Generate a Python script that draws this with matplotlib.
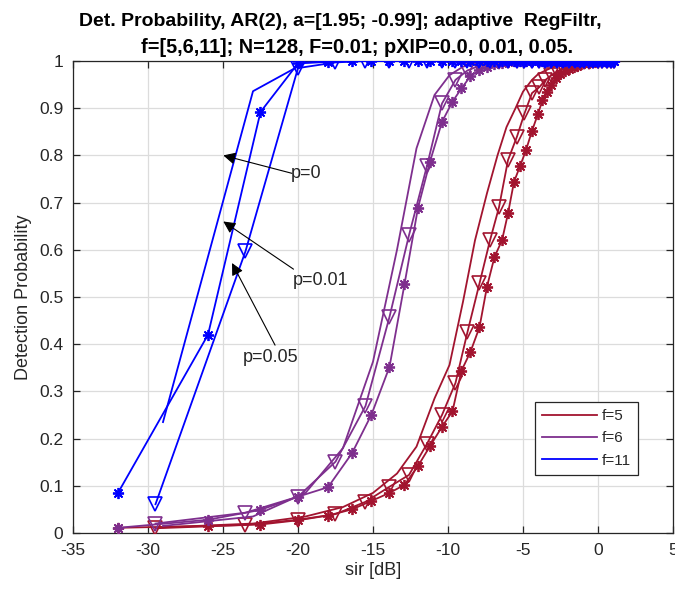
import matplotlib
matplotlib.use("Agg")
import matplotlib.pyplot as plt
from matplotlib.lines import Line2D

plt.rcParams['font.family'] = ['Liberation Sans', 'DejaVu Sans']

# ---------------- data ----------------
# SIR grids for the three pXIP settings
x_p000 = [-29.0, -23.0, -19.5, -17.0, -15.0, -13.4, -12.1, -10.9, -9.9, -9.0,
          -8.2, -7.4, -6.7, -6.1, -5.5, -5.0, -4.4, -4.0, -3.5, -3.0,
          -2.6, -2.2, -1.8, -1.5, -1.1, -0.8, -0.5, -0.2, 0.1, 0.4, 0.7, 1.0]
x_p001 = [-32.0, -26.0, -22.5, -20.0, -18.0, -16.4, -15.1, -13.9, -12.9, -12.0,
          -11.2, -10.4, -9.7, -9.1, -8.5, -7.9, -7.4, -6.9, -6.4, -6.0,
          -5.6, -5.2, -4.8, -4.4, -4.0, -3.7, -3.4, -3.1, -2.8, -2.5,
          -2.2, -1.9, -1.6, -1.4, -1.1, -0.9, -0.6, -0.4, -0.2, 0.0,
          0.3, 0.5, 0.7, 0.9, 1.1]
x_p005 = [-29.5, -23.5, -20.0, -17.5, -15.5, -13.9, -12.6, -11.4, -10.4, -9.5,
          -8.7, -7.9, -7.2, -6.6, -6.0, -5.4, -4.9, -4.4, -3.9, -3.5,
          -3.1, -2.7, -2.3, -1.9, -1.5, -1.2, -0.9, -0.6, -0.3, 0.0,
          0.3, 0.6, 0.9, 1.1]

# f = 5
f5_p000 = [0.012, 0.02, 0.035, 0.055, 0.085, 0.126, 0.183, 0.285, 0.356, 0.49,
           0.62, 0.72, 0.80, 0.86, 0.90, 0.935, 0.96, 0.972, 0.98, 0.987,
           0.992, 0.995, 0.997, 0.998, 1.0, 1.0, 1.0, 1.0, 1.0, 1.0, 1.0, 1.0]
f5_p001 = [0.011, 0.015, 0.018, 0.027, 0.037, 0.05, 0.068, 0.085, 0.102, 0.142,
           0.184, 0.225, 0.258, 0.344, 0.384, 0.436, 0.522, 0.585, 0.62, 0.677,
           0.744, 0.777, 0.811, 0.852, 0.888, 0.917, 0.935, 0.95, 0.963, 0.972,
           0.978, 0.983, 0.987, 0.99, 0.993, 0.995, 0.996, 0.997, 0.998, 0.999,
           1.0, 1.0, 1.0, 1.0, 1.0]
f5_p005 = [0.01, 0.017, 0.028, 0.04, 0.066, 0.098, 0.123, 0.189, 0.25, 0.318,
           0.426, 0.529, 0.62, 0.69, 0.79, 0.84, 0.889, 0.932, 0.945, 0.96,
           0.97, 0.978, 0.985, 0.99, 0.993, 0.995, 0.997, 0.998, 1.0, 1.0,
           1.0, 1.0, 1.0, 1.0]
# f = 6
f6_p000 = [0.015, 0.035, 0.085, 0.18, 0.363, 0.6, 0.815, 0.928, 0.97, 0.988,
           0.995, 0.998, 1.0, 1.0, 1.0, 1.0, 1.0, 1.0, 1.0, 1.0,
           1.0, 1.0, 1.0, 1.0, 1.0, 1.0, 1.0, 1.0, 1.0, 1.0, 1.0, 1.0]
f6_p001 = [0.011, 0.028, 0.049, 0.077, 0.097, 0.169, 0.251, 0.352, 0.527, 0.689,
           0.787, 0.871, 0.914, 0.942, 0.968, 0.98, 0.988, 0.993, 0.996, 0.998,
           1.0, 1.0, 1.0, 1.0, 1.0, 1.0, 1.0, 1.0, 1.0, 1.0,
           1.0, 1.0, 1.0, 1.0, 1.0, 1.0, 1.0, 1.0, 1.0, 1.0,
           1.0, 1.0, 1.0, 1.0, 1.0]
f6_p005 = [0.02, 0.043, 0.077, 0.151, 0.269, 0.458, 0.631, 0.778, 0.91, 0.96,
           0.98, 0.99, 0.995, 0.998, 1.0, 1.0, 1.0, 1.0, 1.0, 1.0,
           1.0, 1.0, 1.0, 1.0, 1.0, 1.0, 1.0, 1.0, 1.0, 1.0,
           1.0, 1.0, 1.0, 1.0]
# f = 11
f11_p000 = [0.235, 0.936, 0.997, 1.0, 1.0, 1.0, 1.0, 1.0, 1.0, 1.0,
            1.0, 1.0, 1.0, 1.0, 1.0, 1.0, 1.0, 1.0, 1.0, 1.0,
            1.0, 1.0, 1.0, 1.0, 1.0, 1.0, 1.0, 1.0, 1.0, 1.0, 1.0, 1.0]
f11_p001 = [0.085, 0.42, 0.892, 0.995, 0.998, 1.0, 1.0, 1.0, 1.0, 1.0,
            1.0, 1.0, 1.0, 1.0, 1.0, 1.0, 1.0, 1.0, 1.0, 1.0,
            1.0, 1.0, 1.0, 1.0, 1.0, 1.0, 1.0, 1.0, 1.0, 1.0,
            1.0, 1.0, 1.0, 1.0, 1.0, 1.0, 1.0, 1.0, 1.0, 1.0,
            1.0, 1.0, 1.0, 1.0, 1.0]
f11_p005 = [0.061, 0.597, 0.985, 0.997, 1.0, 1.0, 1.0, 1.0, 1.0, 1.0,
            1.0, 1.0, 1.0, 1.0, 1.0, 1.0, 1.0, 1.0, 1.0, 1.0,
            1.0, 1.0, 1.0, 1.0, 1.0, 1.0, 1.0, 1.0, 1.0, 1.0,
            1.0, 1.0, 1.0, 1.0]

legend_labels = ['f=5', 'f=6', 'f=11']
annot_labels = ['p=0', 'p=0.01', 'p=0.05']
title_line1 = 'Det. Probability, AR(2), a=[1.95; -0.99]; adaptive  RegFiltr,'
title_line2 = 'f=[5,6,11]; N=128, F=0.01; pXIP=0.0, 0.01, 0.05.'
xticks = [-35, -30, -25, -20, -15, -10, -5, 0, 5]
yticks = [0, 0.1, 0.2, 0.3, 0.4, 0.5, 0.6, 0.7, 0.8, 0.9, 1]
ytick_labels = ['0', '0.1', '0.2', '0.3', '0.4', '0.5', '0.6', '0.7', '0.8', '0.9', '1']

# ---------------- styling ----------------
RED = '#A2142F'
PURPLE = '#7E2F8E'
BLUE = '#0000FF'
TXT = '#262626'
LW = 1.3
AST = (8, 2, 0)

fig = plt.figure(figsize=(6.75, 5.90), dpi=100)
ax = fig.add_axes([73/675, 57/590, 600/675, 472/590])

series = [
    (RED, f5_p000, f5_p001, f5_p005),
    (PURPLE, f6_p000, f6_p001, f6_p005),
    (BLUE, f11_p000, f11_p001, f11_p005),
]
for color, y0, y1, y5 in series:
    ax.plot(x_p000, y0, color=color, lw=LW, zorder=3)
    ax.plot(x_p001, y1, color=color, lw=LW, marker=AST, markersize=8,
            markeredgewidth=1.3, markeredgecolor=color, zorder=3)
    ax.plot(x_p005, y5, color=color, lw=LW, marker='v', markersize=10,
            markerfacecolor='none', markeredgewidth=1.2, markeredgecolor=color, zorder=3)

ax.set_xlim(-35, 5)
ax.set_ylim(0, 1)
ax.set_xticks(xticks)
ax.set_xticklabels([str(t) for t in xticks])
ax.set_yticks(yticks)
ax.set_yticklabels(ytick_labels)
ax.grid(True, color='#dcdcdc', lw=0.9, zorder=0)
ax.set_axisbelow(True)
ax.tick_params(direction='in', length=5, width=0.9, colors=TXT, labelsize=12.5,
               top=True, right=True, pad=7)
for s in ax.spines.values():
    s.set_color(TXT)
    s.set_linewidth(0.9)

ax.set_xlabel('sir [dB]', fontsize=13, color=TXT, labelpad=3)
ax.set_ylabel('Detection Probability', fontsize=13, color=TXT, labelpad=5)

# legend (lines only)
handles = [Line2D([0], [0], color=c, lw=LW) for c in (RED, PURPLE, BLUE)]
leg = ax.legend(handles, legend_labels, loc='upper left',
                bbox_to_anchor=(0.77, 0.2775), borderaxespad=0,
                fontsize=11, handlelength=3.6, handletextpad=0.35,
                labelspacing=0.55, borderpad=0.45, fancybox=False,
                framealpha=1, edgecolor=TXT)
leg.get_frame().set_linewidth(0.9)
for t in leg.get_texts():
    t.set_color(TXT)

# annotations: arrows and labels
arrow_kw = dict(arrowstyle='-|>', color='black', lw=0.8, mutation_scale=18,
                shrinkA=0, shrinkB=0)
ax.annotate('', xy=(-24.98, 0.80), xytext=(-20.4, 0.762), arrowprops=arrow_kw)
ax.annotate('', xy=(-24.98, 0.66), xytext=(-20.3, 0.559), arrowprops=arrow_kw)
ax.annotate('', xy=(-24.4, 0.572), xytext=(-21.53, 0.398), arrowprops=arrow_kw)
ax.text(-20.45, 0.762, annot_labels[0], fontsize=13, va='center', ha='left', color=TXT)
ax.text(-20.35, 0.536, annot_labels[1], fontsize=13, va='center', ha='left', color=TXT)
ax.text(-23.7, 0.371, annot_labels[2], fontsize=13, va='center', ha='left', color=TXT)

# title (two lines)
fig.text(340/675, 1 - 26/590, title_line1, ha='center', va='baseline',
         fontsize=14, fontweight='bold', color='black')
fig.text(357.5/675, 1 - 53/590, title_line2, ha='center', va='baseline',
         fontsize=14.3, fontweight='bold', color='black')

fig.savefig('out.png', dpi=100)
